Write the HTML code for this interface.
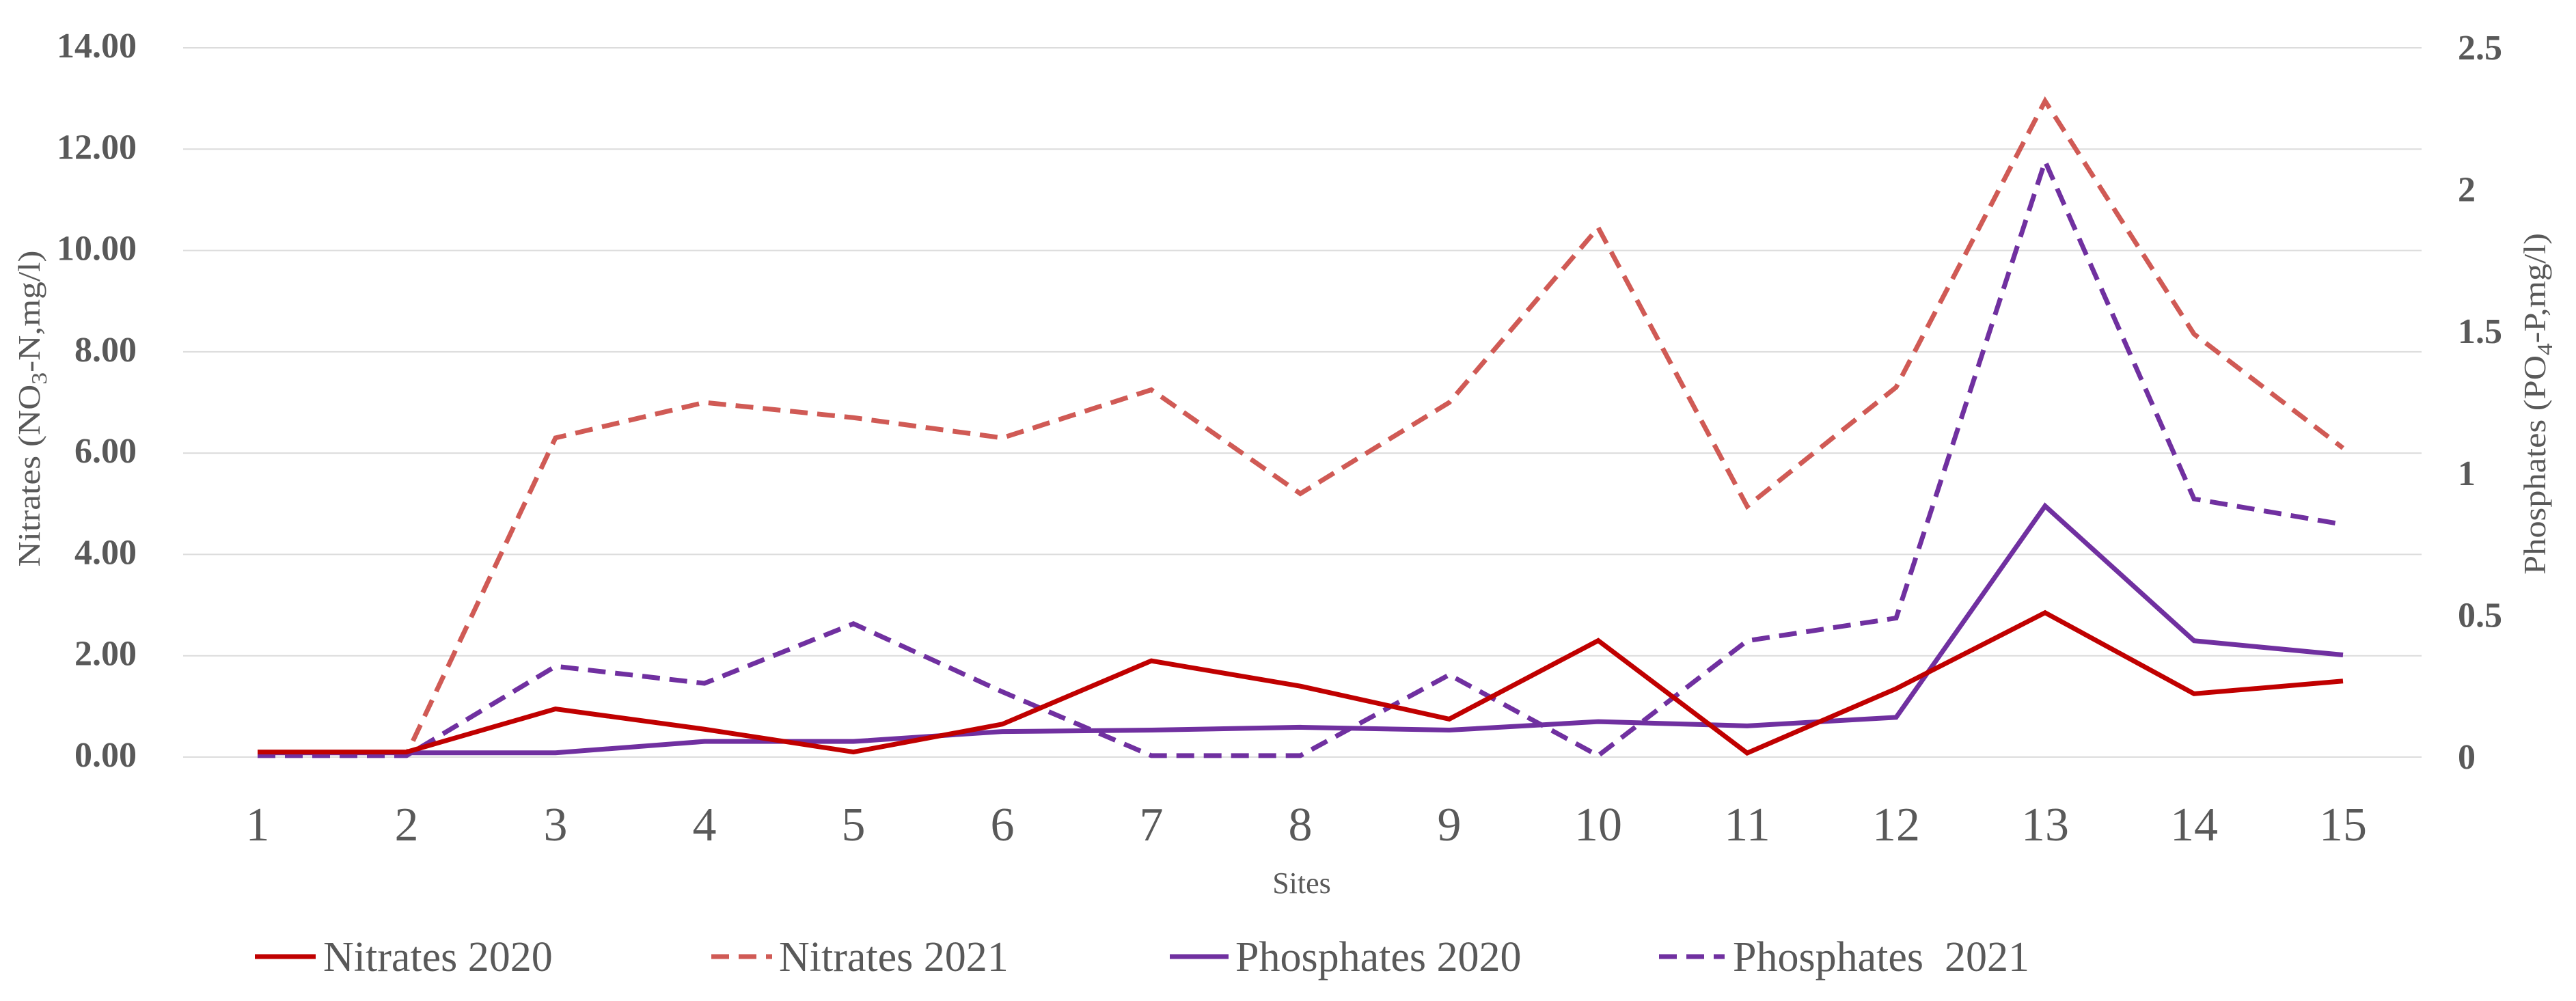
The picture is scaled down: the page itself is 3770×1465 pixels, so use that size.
<!DOCTYPE html>
<html><head><meta charset="utf-8"><style>
html,body{margin:0;padding:0;background:#fff;}
svg{display:block;font-family:"Liberation Serif",serif;}
</style></head><body>
<svg id="chart" width="3770" height="1465" viewBox="0 0 3770 1465" xmlns="http://www.w3.org/2000/svg">
<g id="grid"></g>
<g id="yl"></g>
<g id="yr"></g>
<g id="xt"></g>
<g id="series"></g>
<text transform="translate(58,598) rotate(-90)" text-anchor="middle" font-size="46" fill="#595959" textLength="463" lengthAdjust="spacingAndGlyphs">Nitrates (NO<tspan font-size="32" dy="10">3</tspan><tspan dy="-10">-N,mg/l)</tspan></text>
<text transform="translate(3725,591) rotate(-90)" text-anchor="middle" font-size="46" fill="#595959" textLength="500" lengthAdjust="spacingAndGlyphs">Phosphates (PO<tspan font-size="32" dy="10">4</tspan><tspan dy="-10">-P,mg/l)</tspan></text>
<text x="1905" y="1307" text-anchor="middle" font-size="44" fill="#595959">Sites</text>
<g font-size="62" fill="#595959">
<g><line x1="373" y1="1400" x2="462" y2="1400" stroke="#c00000" stroke-width="7"/><text x="473" y="1421">Nitrates 2020</text></g>
<g><line x1="1041" y1="1400" x2="1130" y2="1400" stroke="#d05a55" stroke-width="7" stroke-dasharray="26,14"/><text x="1140" y="1421">Nitrates 2021</text></g>
<g><line x1="1712" y1="1400" x2="1798" y2="1400" stroke="#7030a0" stroke-width="7"/><text x="1808" y="1421">Phosphates 2020</text></g>
<g><line x1="2428" y1="1400" x2="2524" y2="1400" stroke="#7030a0" stroke-width="7" stroke-dasharray="26,14"/><text x="2536" y="1421" xml:space="preserve">Phosphates  2021</text></g>
</g>
</svg>
<script>
const sites=[1,2,3,4,5,6,7,8,9,10,11,12,13,14,15];
const leftTicks=["0.00","2.00","4.00","6.00","8.00","10.00","12.00","14.00"];
const rightTicks=["0","0.5","1","1.5","2","2.5"];
const nitrates2020=[0.1,0.1,0.95,0.55,0.1,0.65,1.9,1.4,0.75,2.3,0.08,1.35,2.85,1.25,1.5];
const nitrates2021=[0.05,0.05,6.3,7.0,6.7,6.3,7.25,5.2,7.0,10.45,4.95,7.3,12.95,8.35,6.1];
const phosphates2020=[0.015,0.015,0.015,0.055,0.055,0.09,0.095,0.105,0.095,0.125,0.11,0.14,0.885,0.41,0.36];
const phosphates2021=[0.005,0.005,0.32,0.26,0.47,0.23,0.005,0.005,0.29,0.005,0.41,0.49,2.1,0.91,0.82];
const NS="http://www.w3.org/2000/svg";
const X0=377,DX=218,Y0=1108,YT=70;
const xs=i=>X0+i*DX;
const yl=v=>Y0-(v/14)*(Y0-YT);
const yr=v=>Y0-(v/2.5)*(Y0-YT);
function mk(tag,attrs,parent,txt){const e=document.createElementNS(NS,tag);for(const k in attrs)e.setAttribute(k,attrs[k]);if(txt!==undefined)e.textContent=txt;parent.appendChild(e);return e;}
const grid=document.getElementById('grid'),gl=document.getElementById('yl'),gr=document.getElementById('yr'),gx=document.getElementById('xt'),gs=document.getElementById('series');
leftTicks.forEach(t=>{const v=parseFloat(t);
 const l=mk('line',{x1:268,x2:3544,y1:yl(v),y2:yl(v),stroke:'#dcdcdc','stroke-width':2},grid);
 
 
 const tx=mk('text',{x:200,y:yl(v)+14,'text-anchor':'end','font-size':52,'font-weight':'bold',fill:'#595959'},gl,t);
 
 
});
rightTicks.forEach(t=>{const v=parseFloat(t);
 const tx=mk('text',{x:3597,y:yr(v)+17,'font-size':52,'font-weight':'bold',fill:'#595959'},gr,t);
 
 
});
sites.forEach((s,i)=>{
 const tx=mk('text',{x:xs(i),y:1230,'text-anchor':'middle','font-size':70,fill:'#595959'},gx,String(s));
 
 
});
function line(data,scale,color,dash,name){
 const pts=data.map((v,i)=>xs(i)+','+scale(v)).join(' ');
 const p=mk('polyline',{points:pts,fill:'none',stroke:color,'stroke-width':7,'stroke-linejoin':'miter'},gs);
 if(dash)p.setAttribute('stroke-dasharray',dash);
 
 
}
line(nitrates2021,yl,'#d05a55','26,14','line-nitrates-2021');
line(phosphates2021,yr,'#7030a0','26,14','line-phosphates-2021');
line(phosphates2020,yr,'#7030a0',null,'line-phosphates-2020');
line(nitrates2020,yl,'#c00000',null,'line-nitrates-2020');
</script>
</body></html>
